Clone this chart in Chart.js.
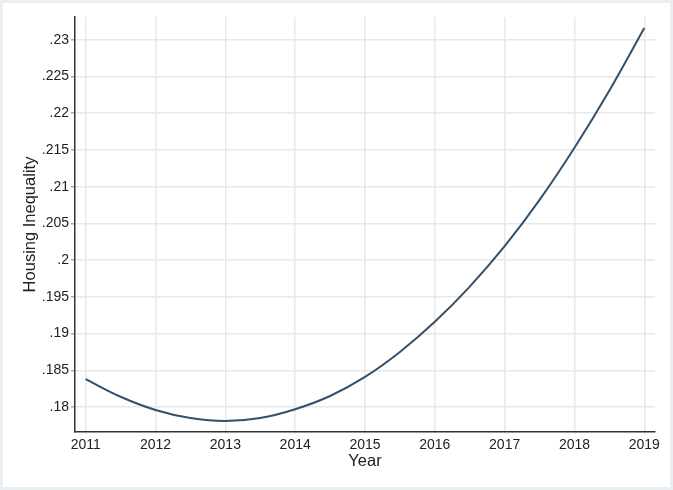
<!DOCTYPE html>
<html>
<head>
<meta charset="utf-8">
<script src="https://cdn.jsdelivr.net/npm/chart.js@4"></script>
<style>
    body { margin: 0; background: #fff; }
    #wrap { position: relative; width: 673px; height: 490px; }
    #frame { position: absolute; left: 0; top: 0; width: 673px; height: 490px; box-sizing: border-box; border: 3px solid #e9eff1; pointer-events: none; }
</style>
</head>
<body>
<div id="wrap">
    <canvas id="chart" width="673" height="490"></canvas>
    <div id="frame"></div>
</div>
<script>
// Values (fitted curve, read every half year)
const years = [2011, 2011.5, 2012, 2012.5, 2013, 2013.5, 2014, 2014.5, 2015, 2015.5, 2016, 2016.5, 2017, 2017.5, 2018, 2018.5, 2019];
const inequality = [0.1838, 0.1814, 0.1796, 0.1785, 0.1781, 0.1785, 0.1797, 0.1815, 0.1841, 0.1875, 0.1916, 0.1964, 0.2019, 0.2082, 0.2153, 0.2231, 0.2316];
const yearTicks = [2011, 2012, 2013, 2014, 2015, 2016, 2017, 2018, 2019];
const yTicks = [0.18, 0.185, 0.19, 0.195, 0.2, 0.205, 0.21, 0.215, 0.22, 0.225, 0.23];

Chart.defaults.font.family = "'Liberation Sans', Arial, sans-serif";
Chart.defaults.color = '#222';

const ctx = document.getElementById('chart').getContext('2d');
new Chart(ctx, {
    type: 'line',
    data: {
        datasets: [{
            data: years.map((y, i) => ({ x: y, y: inequality[i] })),
            borderColor: '#34506b',
            borderWidth: 2,
            pointRadius: 0,
            fill: false,
            tension: 0.4
        }]
    },
    options: {
        responsive: false,
        animation: false,
        layout: { padding: { top: 17, right: 18, left: 21, bottom: 0 } },
        plugins: { legend: { display: false }, tooltip: { enabled: false } },
        scales: {
            x: {
                type: 'linear',
                min: 2010.847,
                max: 2019.153,
                afterBuildTicks: s => { s.ticks = yearTicks.map(v => ({ value: v })); },
                afterFit: s => { s.height = 58; },
                ticks: { font: { size: 14 }, padding: 3, callback: v => String(v) },
                grid: { color: '#e8e8e8', lineWidth: 1.5, tickLength: 2, tickColor: '#e8e8e8' },
                border: { color: '#333', width: 1.5 },
                title: { display: true, text: 'Year', font: { size: 16.5 }, padding: { top: 0, bottom: 19 } }
            },
            y: {
                min: 0.1766,
                max: 0.2331,
                afterBuildTicks: s => { s.ticks = yTicks.map(v => ({ value: v })); },
                afterFit: s => { s.width = 54; },
                ticks: {
                    font: { size: 14 },
                    padding: 2,
                    callback: v => String(+v.toFixed(3)).replace(/^0\./, '.')
                },
                grid: { color: '#e8e8e8', lineWidth: 1.5, tickLength: 4, tickColor: '#aaa' },
                border: { color: '#333', width: 1.5 },
                title: { display: true, text: 'Housing Inequality', font: { size: 16.5 }, padding: { top: 0, bottom: 0 } }
            }
        }
    }
});
</script>
</body>
</html>
